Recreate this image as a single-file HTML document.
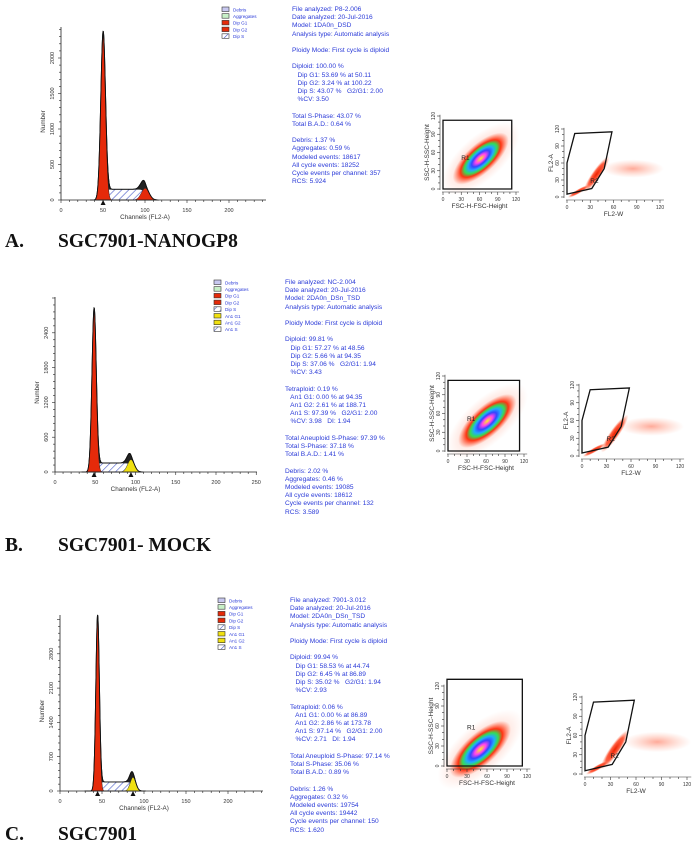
<!DOCTYPE html>
<html><head><meta charset="utf-8"><style>
body{margin:0;background:#fff;}
#wrap{position:relative;width:697px;height:848px;overflow:hidden;background:#fff;font-family:"Liberation Sans",sans-serif;}
.info{position:absolute;color:#2a3ad8;font-size:6.6px;line-height:8.2px;white-space:pre;}
.lab{position:absolute;font-family:"Liberation Serif",serif;font-weight:bold;font-size:19.5px;line-height:24px;color:#111;white-space:pre;}
.lab span{position:absolute;left:53px;top:0;}
svg{position:absolute;left:0;top:0;}
</style></head><body>
<div id="wrap">
<svg id="svg" width="697" height="848">
<defs>
<pattern id="hatch" width="5" height="5" patternUnits="userSpaceOnUse" patternTransform="rotate(45)">
<rect width="5" height="5" fill="#fff"/><line x1="0" y1="0" x2="0" y2="5" stroke="#4a5bc8" stroke-width="1.2"/></pattern>
<radialGradient id="cloud" cx="50%" cy="50%" r="50%">
<stop offset="0" stop-color="#ffee22"/><stop offset="0.18" stop-color="#ff44ee"/><stop offset="0.32" stop-color="#3344ff"/><stop offset="0.45" stop-color="#22aaff"/><stop offset="0.58" stop-color="#33dd55"/><stop offset="0.72" stop-color="#ff3311"/><stop offset="1" stop-color="#ff6644" stop-opacity="0"/></radialGradient>
<radialGradient id="red" cx="50%" cy="50%" r="50%"><stop offset="0" stop-color="#ee2200"/><stop offset="0.6" stop-color="#ff4422" stop-opacity="0.85"/><stop offset="1" stop-color="#ff8866" stop-opacity="0"/></radialGradient>
<radialGradient id="halo" cx="50%" cy="50%" r="50%"><stop offset="0" stop-color="#ff5533" stop-opacity="0.5"/><stop offset="1" stop-color="#ff8866" stop-opacity="0"/></radialGradient>
</defs>
</svg>

<div class="info" style="left:292px;top:6px">File analyzed: P8-2.006
Date analyzed: 20-Jul-2016
Model: 1DA0n_DSD
Analysis type: Automatic analysis

Ploidy Mode: First cycle is diploid

Diploid: 100.00 %
   Dip G1: 53.69 % at 50.11
   Dip G2: 3.24 % at 100.22
   Dip S: 43.07 %   G2/G1: 2.00
   %CV: 3.50

Total S-Phase: 43.07 %
Total B.A.D.: 0.64 %

Debris: 1.37 %
Aggregates: 0.59 %
Modeled events: 18617
All cycle events: 18252
Cycle events per channel: 357
RCS: 5.924</div>

<div class="info" style="left:285px;top:279px">File analyzed: NC-2.004
Date analyzed: 20-Jul-2016
Model: 2DA0n_DSn_TSD
Analysis type: Automatic analysis

Ploidy Mode: First cycle is diploid

Diploid: 99.81 %
   Dip G1: 57.27 % at 48.56
   Dip G2: 5.66 % at 94.35
   Dip S: 37.06 %   G2/G1: 1.94
   %CV: 3.43

Tetraploid: 0.19 %
   An1 G1: 0.00 % at 94.35
   An1 G2: 2.61 % at 188.71
   An1 S: 97.39 %   G2/G1: 2.00
   %CV: 3.98   DI: 1.94

Total Aneuploid S-Phase: 97.39 %
Total S-Phase: 37.18 %
Total B.A.D.: 1.41 %

Debris: 2.02 %
Aggregates: 0.46 %
Modeled events: 19085
All cycle events: 18612
Cycle events per channel: 132
RCS: 3.589</div>

<div class="info" style="left:290px;top:597px">File analyzed: 7901-3.012
Date analyzed: 20-Jul-2016
Model: 2DA0n_DSn_TSD
Analysis type: Automatic analysis

Ploidy Mode: First cycle is diploid

Diploid: 99.94 %
   Dip G1: 58.53 % at 44.74
   Dip G2: 6.45 % at 86.89
   Dip S: 35.02 %   G2/G1: 1.94
   %CV: 2.93

Tetraploid: 0.06 %
   An1 G1: 0.00 % at 86.89
   An1 G2: 2.86 % at 173.78
   An1 S: 97.14 %   G2/G1: 2.00
   %CV: 2.71   DI: 1.94

Total Aneuploid S-Phase: 97.14 %
Total S-Phase: 35.06 %
Total B.A.D.: 0.89 %

Debris: 1.26 %
Aggregates: 0.32 %
Modeled events: 19754
All cycle events: 19442
Cycle events per channel: 150
RCS: 1.620</div>

<div class="lab" style="left:5px;top:230px">A.<span>SGC7901-NANOGP8</span></div>
<div class="lab" style="left:5px;top:534px">B.<span>SGC7901- MOCK</span></div>
<div class="lab" style="left:5px;top:823px">C.<span>SGC7901</span></div>
</div>
<script>
// ---- data ----
const g1Channels = [50.11, 48.56, 44.74];
const g2Channels = [100.22, 94.35, 86.89];
const g1Heights = [2300, 2750, 3500];
const g2Heights = [240, 290, 370];
const sLevels = [150, 155, 185];
const cvs = [3.5, 3.43, 2.93];
const yTicksA = [0, 500, 1000, 1500, 2000];
const yTicksB = [0, 600, 1200, 1800, 2400];
const yTicksC = [0, 700, 1400, 2100, 2800];
const xTicksA = [0, 50, 100, 150, 200];
const xTicksB = [0, 50, 100, 150, 200, 250];
const xTicksC = [0, 50, 100, 150, 200];
const legendA = ["Debris","Aggregates","Dip G1","Dip G2","Dip S"];
const legendBC = ["Debris","Aggregates","Dip G1","Dip G2","Dip S","An1 G1","An1 G2","An1 S"];
const scatterTicks = [0, 30, 60, 90, 120];
const cloudCentersX = [62, 62, 50];
const cloudCentersY = [50, 48, 25];
const fl2CentersX = [38, 40, 35];
const fl2CentersY = [40, 38, 38];

// ---- layout (geometry only) ----
const NS="http://www.w3.org/2000/svg";
const svg=document.getElementById('svg');
function mk(tag,attrs,parent){const e=document.createElementNS(NS,tag);for(const k in attrs)e.setAttribute(k,attrs[k]);(parent||svg).appendChild(e);return e;}
const geoms=[
 {x0:61,y0:200,ppc:0.84,ppn:0.071,top:27,xEnd:266,yTicks:yTicksA,xTicks:xTicksA,leg:legendA,lx:222,ly:7,g2col:'#e52a0a',name:'a'},
 {x0:55,y0:472,ppc:0.805,ppn:0.058,top:297,xEnd:257,yTicks:yTicksB,xTicks:xTicksB,leg:legendBC,lx:214,ly:280,g2col:'#f0e010',name:'b'},
 {x0:60,y0:791,ppc:0.84,ppn:0.049,top:615,xEnd:263,yTicks:yTicksC,xTicks:xTicksC,leg:legendBC,lx:218,ly:598,g2col:'#f0e010',name:'c'}
];
const legCols={"Debris":"#c8c8f0","Aggregates":"#c8f0c8","Dip G1":"#e52a0a","Dip G2":"#e52a0a","Dip S":"url(#hatch)","An1 G1":"#f0e010","An1 G2":"#f0e010","An1 S":"url(#hatch)"};

geoms.forEach((g,i)=>{
 const grp=mk('g',{});
 
 
 const X=c=>g.x0+c*g.ppc, Y=n=>g.y0-n*g.ppn;
 const m1=g1Channels[i], m2=g2Channels[i], sd1=m1*cvs[i]/100*1.6, sd2=m2*cvs[i]/100*1.3;
 const gauss=(c,m,s,h)=>h*Math.exp(-0.5*((c-m)/s)**2);
 const sig=(c,a)=>1/(1+Math.exp(-(c-a)/1.2));
 const sPart=c=>sLevels[i]*sig(c,m1)*(1-sig(c,m2));
 const g2h=g2Heights[i]-sLevels[i]*0.5;
 let tot=[],p1=[],p2=[],ps=[];
 for(let c=m1-15;c<=m2+15;c+=0.25){
  const a=gauss(c,m1,sd1,g1Heights[i]), b=gauss(c,m2,sd2,g2h), s=sPart(c);
  tot.push(X(c)+','+Y(a+b+s)); p1.push(X(c)+','+Y(a)); p2.push(X(c)+','+Y(b)); ps.push(X(c)+','+Y(s));
 }
 const base=(l)=>X(m1-15)+','+g.y0+' '+l.join(' ')+' '+X(m2+15)+','+g.y0;
 const tf=mk('polygon',{points:base(tot),fill:'#222',stroke:'#111','stroke-width':0.9},grp);
  
 const sp=mk('polygon',{points:base(ps),fill:'url(#hatch)',stroke:'#222','stroke-width':0.6},grp);
  
 const a1=mk('polygon',{points:base(p1),fill:'#e52a0a',stroke:'#222','stroke-width':0.5},grp);
  
 const a2=mk('polygon',{points:base(p2),fill:g.g2col,stroke:'#222','stroke-width':0.5},grp);
  
 const tl=mk('polyline',{points:tot.join(' '),fill:'none',stroke:'#111','stroke-width':0.9},grp);
  
 mk('line',{x1:g.x0,y1:g.top,x2:g.x0,y2:g.y0,stroke:'#222','stroke-width':0.8},grp);
 mk('line',{x1:g.x0,y1:g.y0,x2:g.xEnd,y2:g.y0,stroke:'#222','stroke-width':0.8},grp);
 for(let c=0;X(c)<=g.xEnd;c+=10) mk('line',{x1:X(c),y1:g.y0,x2:X(c),y2:g.y0+(c%50===0?3:2),stroke:'#222','stroke-width':0.6},grp);
 const yStep=(g.yTicks[1]-g.yTicks[0])/5;
 for(let n=0;Y(n)>=g.top;n+=yStep) mk('line',{x1:g.x0-(Math.round(n/yStep)%5===0?3:2),y1:Y(n),x2:g.x0,y2:Y(n),stroke:'#222','stroke-width':0.6},grp);
 g.xTicks.forEach(t=>{const e=mk('text',{x:X(t),y:g.y0+12,'font-size':5.5,'text-anchor':'middle',fill:'#333'},grp);e.textContent=t;
   });
 g.yTicks.forEach(t=>{const e=mk('text',{x:0,y:0,'font-size':5.5,'text-anchor':'middle',fill:'#333',transform:`translate(${g.x0-7},${Y(t)}) rotate(-90)`},grp);e.textContent=t;
   });
 const xt=mk('text',{x:X(100),y:g.y0+19,'font-size':6.3,'text-anchor':'middle',fill:'#333'},grp);xt.textContent='Channels (FL2-A)';
  
 const yt=mk('text',{x:0,y:0,'font-size':6.3,'text-anchor':'middle',fill:'#333',transform:`translate(${g.x0-16},${(g.top+g.y0)/2+8}) rotate(-90)`},grp);yt.textContent='Number';
  
 const marks = i===0 ? [m1] : [m1,m2];
 marks.forEach(m=>{const mm=mk('polygon',{points:`${X(m)-2.5},${g.y0+5} ${X(m)+2.5},${g.y0+5} ${X(m)},${g.y0}`,fill:'#111'},grp);
   });
 g.leg.forEach((l,k)=>{
  const r=mk('rect',{x:g.lx,y:g.ly+k*6.7,width:7,height:4.5,fill:legCols[l],stroke:'#333','stroke-width':0.6},grp);
   
  const t=mk('text',{x:g.lx+11,y:g.ly+k*6.7+4.3,'font-size':4.6,fill:'#2a3ad8'},grp);t.textContent=l;
   
 });
});

// ---- scatter plots ----
const scat=[
 {x0:443,y0:189,sx:73/120,sy:73/120,name:'a1',kind:1,p:0,xl:'FSC-H-FSC-Height',yl:'SSC-H-SSC-Height'},
 {x0:567,y0:197,sx:93/120,sy:68/120,name:'a2',kind:2,p:0,xl:'FL2-W',yl:'FL2-A'},
 {x0:448,y0:451,sx:76/120,sy:75/120,name:'b1',kind:1,p:1,xl:'FSC-H-FSC-Height',yl:'SSC-H-SSC-Height'},
 {x0:582,y0:456,sx:98/120,sy:71/120,name:'b2',kind:2,p:1,xl:'FL2-W',yl:'FL2-A'},
 {x0:447,y0:766,sx:80/120,sy:80/120,name:'c1',kind:1,p:2,xl:'FSC-H-FSC-Height',yl:'SSC-H-SSC-Height'},
 {x0:585,y0:774,sx:102/120,sy:77/120,name:'c2',kind:2,p:2,xl:'FL2-W',yl:'FL2-A'}
];
const gateR2=[[0,5],[32,15],[48,50],[58,115],[10,112],[0,60]];
scat.forEach(s=>{
 const grp=mk('g',{});
 
 
 const X=v=>s.x0+v*s.sx, Y=v=>s.y0-v*s.sy;
 if(s.kind===1){
  const cx=X(cloudCentersX[s.p]),cy=Y(cloudCentersY[s.p]);
  mk('ellipse',{cx:cx,cy:cy,rx:80*s.sx,ry:36*s.sy,fill:'url(#halo)',transform:`rotate(-42 ${cx} ${cy})`},grp);
  const e=mk('ellipse',{cx:cx,cy:cy,rx:58*s.sx,ry:24*s.sy,fill:'url(#cloud)',transform:`rotate(-42 ${cx} ${cy})`},grp);
   
  const top = s.p===2 ? 130 : 113;
  const p=mk('polygon',{points:[[0,0],[113,0],[113,top],[0,top]].map(q=>X(q[0])+','+Y(q[1])).join(' '),fill:'none',stroke:'#111','stroke-width':1.3},grp);
   
  const t=mk('text',{x:X(30),y:Y(s.p===2?55:48),'font-size':6.5,fill:'#222'},grp);t.textContent='R1';
 } else {
  const cx=X(fl2CentersX[s.p]),cy=Y(fl2CentersY[s.p]);
  mk('ellipse',{cx:X(85),cy:Y(50),rx:40*s.sx,ry:16*s.sy,fill:'url(#halo)'},grp);
  const e=mk('ellipse',{cx:cx,cy:cy,rx:28*s.sx,ry:8*s.sy,fill:'url(#red)',transform:`rotate(-55 ${cx} ${cy})`},grp);
   
  mk('ellipse',{cx:X(15),cy:Y(10),rx:16*s.sx,ry:4*s.sy,fill:'url(#red)',transform:`rotate(-30 ${X(15)} ${Y(10)})`},grp);
  const p=mk('polygon',{points:gateR2.map(q=>X(q[0])+','+Y(q[1])).join(' '),fill:'none',stroke:'#111','stroke-width':1.3},grp);
   
  const t=mk('text',{x:X(30),y:Y(25),'font-size':6.5,fill:'#222'},grp);t.textContent='R2';
 }
 mk('line',{x1:s.x0-1,y1:s.y0+3,x2:X(125),y2:s.y0+3,stroke:'#333','stroke-width':0.6},grp);
 mk('line',{x1:s.x0-3,y1:s.y0+1,x2:s.x0-3,y2:Y(122),stroke:'#333','stroke-width':0.6},grp);
 for(let t=0;t<=120;t+=10){
  mk('line',{x1:X(t),y1:s.y0+3,x2:X(t),y2:s.y0+(t%30===0?6:5),stroke:'#333','stroke-width':0.6},grp);
  mk('line',{x1:s.x0-(t%30===0?6:5),y1:Y(t),x2:s.x0-3,y2:Y(t),stroke:'#333','stroke-width':0.6},grp);
 }
 scatterTicks.forEach(t=>{
  const a=mk('text',{x:X(t),y:s.y0+12,'font-size':5,'text-anchor':'middle',fill:'#333'},grp);a.textContent=t;
   
  const b=mk('text',{x:0,y:0,'font-size':5,'text-anchor':'middle',fill:'#333',transform:`translate(${s.x0-8},${Y(t)}) rotate(-90)`},grp);b.textContent=t;
   
 });
 const xt=mk('text',{x:X(60),y:s.y0+19,'font-size':6.5,'text-anchor':'middle',fill:'#333'},grp);xt.textContent=s.xl;
  
 const yt=mk('text',{x:0,y:0,'font-size':6.5,'text-anchor':'middle',fill:'#333',transform:`translate(${s.x0-14},${Y(60)}) rotate(-90)`},grp);yt.textContent=s.yl;
  
});
</script>
</body></html>
